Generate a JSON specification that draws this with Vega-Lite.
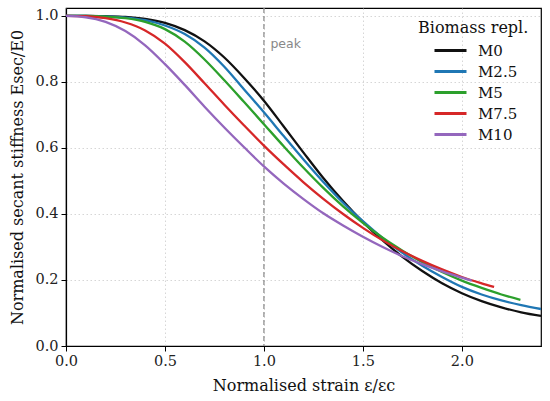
{
  "$schema": "https://vega.github.io/schema/vega-lite/v6.json",
  "width": 475,
  "height": 338,
  "autosize": {"type": "none"},
  "padding": {"left": 66, "top": 8, "right": 9, "bottom": 55},
  "background": "white",
  "config": {
    "view": {"stroke": "#000000", "strokeWidth": 1.2},
    "font": "DejaVu Serif",
    "legend": {"labelFont": "DejaVu Serif", "titleFont": "DejaVu Serif"},
    "axis": {
      "grid": true,
      "gridColor": "#cccccc",
      "gridDash": [1.5, 2.5],
      "gridWidth": 0.8,
      "domainColor": "#000000",
      "domainWidth": 1.2,
      "tickColor": "#000000",
      "tickSize": 5,
      "tickWidth": 1,
      "labelFont": "DejaVu Serif",
      "labelFontSize": 14.5,
      "labelColor": "#222222",
      "labelPadding": 3,
      "labelFlush": false,
      "labelOverlap": false,
      "titleFont": "DejaVu Serif",
      "titleFontSize": 16,
      "titleFontWeight": "normal",
      "titleColor": "#111111"
    }
  },
  "datasets": {
    "curves": [
      {"s": "M0", "x": 0, "y": 1.0}, {"s": "M0", "x": 0.1, "y": 1.0}, {"s": "M0", "x": 0.2, "y": 0.999}, {"s": "M0", "x": 0.3, "y": 0.997}, {"s": "M0", "x": 0.4, "y": 0.991}, {"s": "M0", "x": 0.5, "y": 0.979}, {"s": "M0", "x": 0.6, "y": 0.957}, {"s": "M0", "x": 0.7, "y": 0.923}, {"s": "M0", "x": 0.8, "y": 0.874}, {"s": "M0", "x": 0.9, "y": 0.812}, {"s": "M0", "x": 1.0, "y": 0.743}, {"s": "M0", "x": 1.1, "y": 0.665}, {"s": "M0", "x": 1.2, "y": 0.586}, {"s": "M0", "x": 1.3, "y": 0.509}, {"s": "M0", "x": 1.4, "y": 0.439}, {"s": "M0", "x": 1.5, "y": 0.376}, {"s": "M0", "x": 1.6, "y": 0.32}, {"s": "M0", "x": 1.7, "y": 0.27}, {"s": "M0", "x": 1.8, "y": 0.227}, {"s": "M0", "x": 1.9, "y": 0.19}, {"s": "M0", "x": 2.0, "y": 0.16}, {"s": "M0", "x": 2.1, "y": 0.136}, {"s": "M0", "x": 2.2, "y": 0.117}, {"s": "M0", "x": 2.3, "y": 0.102}, {"s": "M0", "x": 2.4, "y": 0.091},
      {"s": "M2.5", "x": 0, "y": 1.0}, {"s": "M2.5", "x": 0.1, "y": 1.0}, {"s": "M2.5", "x": 0.2, "y": 0.998}, {"s": "M2.5", "x": 0.3, "y": 0.995}, {"s": "M2.5", "x": 0.4, "y": 0.987}, {"s": "M2.5", "x": 0.5, "y": 0.971}, {"s": "M2.5", "x": 0.6, "y": 0.945}, {"s": "M2.5", "x": 0.7, "y": 0.904}, {"s": "M2.5", "x": 0.8, "y": 0.846}, {"s": "M2.5", "x": 0.9, "y": 0.777}, {"s": "M2.5", "x": 1.0, "y": 0.708}, {"s": "M2.5", "x": 1.1, "y": 0.636}, {"s": "M2.5", "x": 1.2, "y": 0.565}, {"s": "M2.5", "x": 1.3, "y": 0.497}, {"s": "M2.5", "x": 1.4, "y": 0.434}, {"s": "M2.5", "x": 1.5, "y": 0.378}, {"s": "M2.5", "x": 1.6, "y": 0.327}, {"s": "M2.5", "x": 1.7, "y": 0.282}, {"s": "M2.5", "x": 1.8, "y": 0.243}, {"s": "M2.5", "x": 1.9, "y": 0.209}, {"s": "M2.5", "x": 2.0, "y": 0.179}, {"s": "M2.5", "x": 2.1, "y": 0.156}, {"s": "M2.5", "x": 2.2, "y": 0.138}, {"s": "M2.5", "x": 2.3, "y": 0.124}, {"s": "M2.5", "x": 2.4, "y": 0.112},
      {"s": "M5", "x": 0, "y": 1.0}, {"s": "M5", "x": 0.1, "y": 1.0}, {"s": "M5", "x": 0.2, "y": 0.998}, {"s": "M5", "x": 0.3, "y": 0.993}, {"s": "M5", "x": 0.4, "y": 0.982}, {"s": "M5", "x": 0.5, "y": 0.96}, {"s": "M5", "x": 0.6, "y": 0.922}, {"s": "M5", "x": 0.7, "y": 0.868}, {"s": "M5", "x": 0.8, "y": 0.805}, {"s": "M5", "x": 0.9, "y": 0.739}, {"s": "M5", "x": 1.0, "y": 0.672}, {"s": "M5", "x": 1.1, "y": 0.605}, {"s": "M5", "x": 1.2, "y": 0.54}, {"s": "M5", "x": 1.3, "y": 0.479}, {"s": "M5", "x": 1.4, "y": 0.423}, {"s": "M5", "x": 1.5, "y": 0.373}, {"s": "M5", "x": 1.6, "y": 0.328}, {"s": "M5", "x": 1.7, "y": 0.289}, {"s": "M5", "x": 1.8, "y": 0.254}, {"s": "M5", "x": 1.9, "y": 0.224}, {"s": "M5", "x": 2.0, "y": 0.198}, {"s": "M5", "x": 2.1, "y": 0.176}, {"s": "M5", "x": 2.2, "y": 0.156}, {"s": "M5", "x": 2.296, "y": 0.14},
      {"s": "M7.5", "x": 0, "y": 1.0}, {"s": "M7.5", "x": 0.1, "y": 0.999}, {"s": "M7.5", "x": 0.2, "y": 0.993}, {"s": "M7.5", "x": 0.3, "y": 0.98}, {"s": "M7.5", "x": 0.4, "y": 0.956}, {"s": "M7.5", "x": 0.5, "y": 0.916}, {"s": "M7.5", "x": 0.6, "y": 0.86}, {"s": "M7.5", "x": 0.7, "y": 0.796}, {"s": "M7.5", "x": 0.8, "y": 0.731}, {"s": "M7.5", "x": 0.9, "y": 0.668}, {"s": "M7.5", "x": 1.0, "y": 0.607}, {"s": "M7.5", "x": 1.1, "y": 0.55}, {"s": "M7.5", "x": 1.2, "y": 0.496}, {"s": "M7.5", "x": 1.3, "y": 0.446}, {"s": "M7.5", "x": 1.4, "y": 0.4}, {"s": "M7.5", "x": 1.5, "y": 0.358}, {"s": "M7.5", "x": 1.6, "y": 0.32}, {"s": "M7.5", "x": 1.7, "y": 0.287}, {"s": "M7.5", "x": 1.8, "y": 0.258}, {"s": "M7.5", "x": 1.9, "y": 0.232}, {"s": "M7.5", "x": 2.0, "y": 0.209}, {"s": "M7.5", "x": 2.1, "y": 0.19}, {"s": "M7.5", "x": 2.163, "y": 0.179},
      {"s": "M10", "x": 0, "y": 1.0}, {"s": "M10", "x": 0.1, "y": 0.996}, {"s": "M10", "x": 0.2, "y": 0.982}, {"s": "M10", "x": 0.3, "y": 0.954}, {"s": "M10", "x": 0.4, "y": 0.911}, {"s": "M10", "x": 0.5, "y": 0.854}, {"s": "M10", "x": 0.6, "y": 0.791}, {"s": "M10", "x": 0.7, "y": 0.725}, {"s": "M10", "x": 0.8, "y": 0.662}, {"s": "M10", "x": 0.9, "y": 0.602}, {"s": "M10", "x": 1.0, "y": 0.544}, {"s": "M10", "x": 1.1, "y": 0.492}, {"s": "M10", "x": 1.2, "y": 0.445}, {"s": "M10", "x": 1.3, "y": 0.402}, {"s": "M10", "x": 1.4, "y": 0.365}, {"s": "M10", "x": 1.5, "y": 0.331}, {"s": "M10", "x": 1.6, "y": 0.3}, {"s": "M10", "x": 1.7, "y": 0.272}, {"s": "M10", "x": 1.8, "y": 0.248}, {"s": "M10", "x": 1.9, "y": 0.226}, {"s": "M10", "x": 2.0, "y": 0.207}, {"s": "M10", "x": 2.05, "y": 0.198}
    ],
    "peak": [{"x": 1, "y": 0.902, "label": "peak"}]
  },
  "layer": [
    {
      "data": {"name": "peak"},
      "mark": {"type": "rule", "color": "#888888", "strokeDash": [5, 3], "strokeWidth": 1.2},
      "encoding": {
        "x": {"field": "x", "type": "quantitative", "scale": {"domain": [0, 2.4], "nice": false, "zero": false}}
      }
    },
    {
      "data": {"name": "curves"},
      "mark": {"type": "line", "interpolate": "monotone", "strokeWidth": 2.3, "clip": true},
      "encoding": {
        "x": {
          "field": "x", "type": "quantitative",
          "scale": {"domain": [0, 2.4], "nice": false, "zero": false},
          "axis": {"values": [0, 0.5, 1, 1.5, 2], "format": ".1f", "title": "Normalised strain ε/εc", "titlePadding": 10}
        },
        "y": {
          "field": "y", "type": "quantitative",
          "scale": {"domain": [0, 1.024], "nice": false},
          "axis": {"values": [0, 0.2, 0.4, 0.6, 0.8, 1.0], "format": ".1f", "title": "Normalised secant stiffness Esec/E0", "titlePadding": 9}
        },
        "color": {
          "field": "s", "type": "nominal",
          "scale": {"domain": ["M0", "M2.5", "M5", "M7.5", "M10"], "range": ["#111111", "#1f77b4", "#2ca02c", "#d62728", "#9467bd"]},
          "legend": {
            "orient": "none",
            "legendX": 352,
            "legendY": 12,
            "title": "Biomass repl.",
            "titleFont": "DejaVu Serif",
            "titleFontSize": 16,
            "titleFontWeight": "normal",
            "titleColor": "#111111",
            "titleAnchor": "start",
            "titleAlign": "left",
            "titlePadding": 5,
            "labelFont": "DejaVu Serif",
            "labelFontSize": 15,
            "labelColor": "#111111",
            "labelOffset": 18,
            "symbolOffset": 23,
            "symbolType": "M-2,0H2",
            "symbolSize": 256,
            "symbolStrokeWidth": 3,
            "symbolFillColor": "transparent",
            "rowPadding": 3,
            "padding": 0
          }
        }
      }
    },
    {
      "data": {"name": "peak"},
      "mark": {"type": "text", "align": "left", "baseline": "alphabetic", "dx": 6.5, "font": "DejaVu Sans", "fontSize": 12.5, "color": "#888888"},
      "encoding": {
        "x": {"field": "x", "type": "quantitative"},
        "y": {"field": "y", "type": "quantitative"},
        "text": {"field": "label"}
      }
    }
  ]
}
